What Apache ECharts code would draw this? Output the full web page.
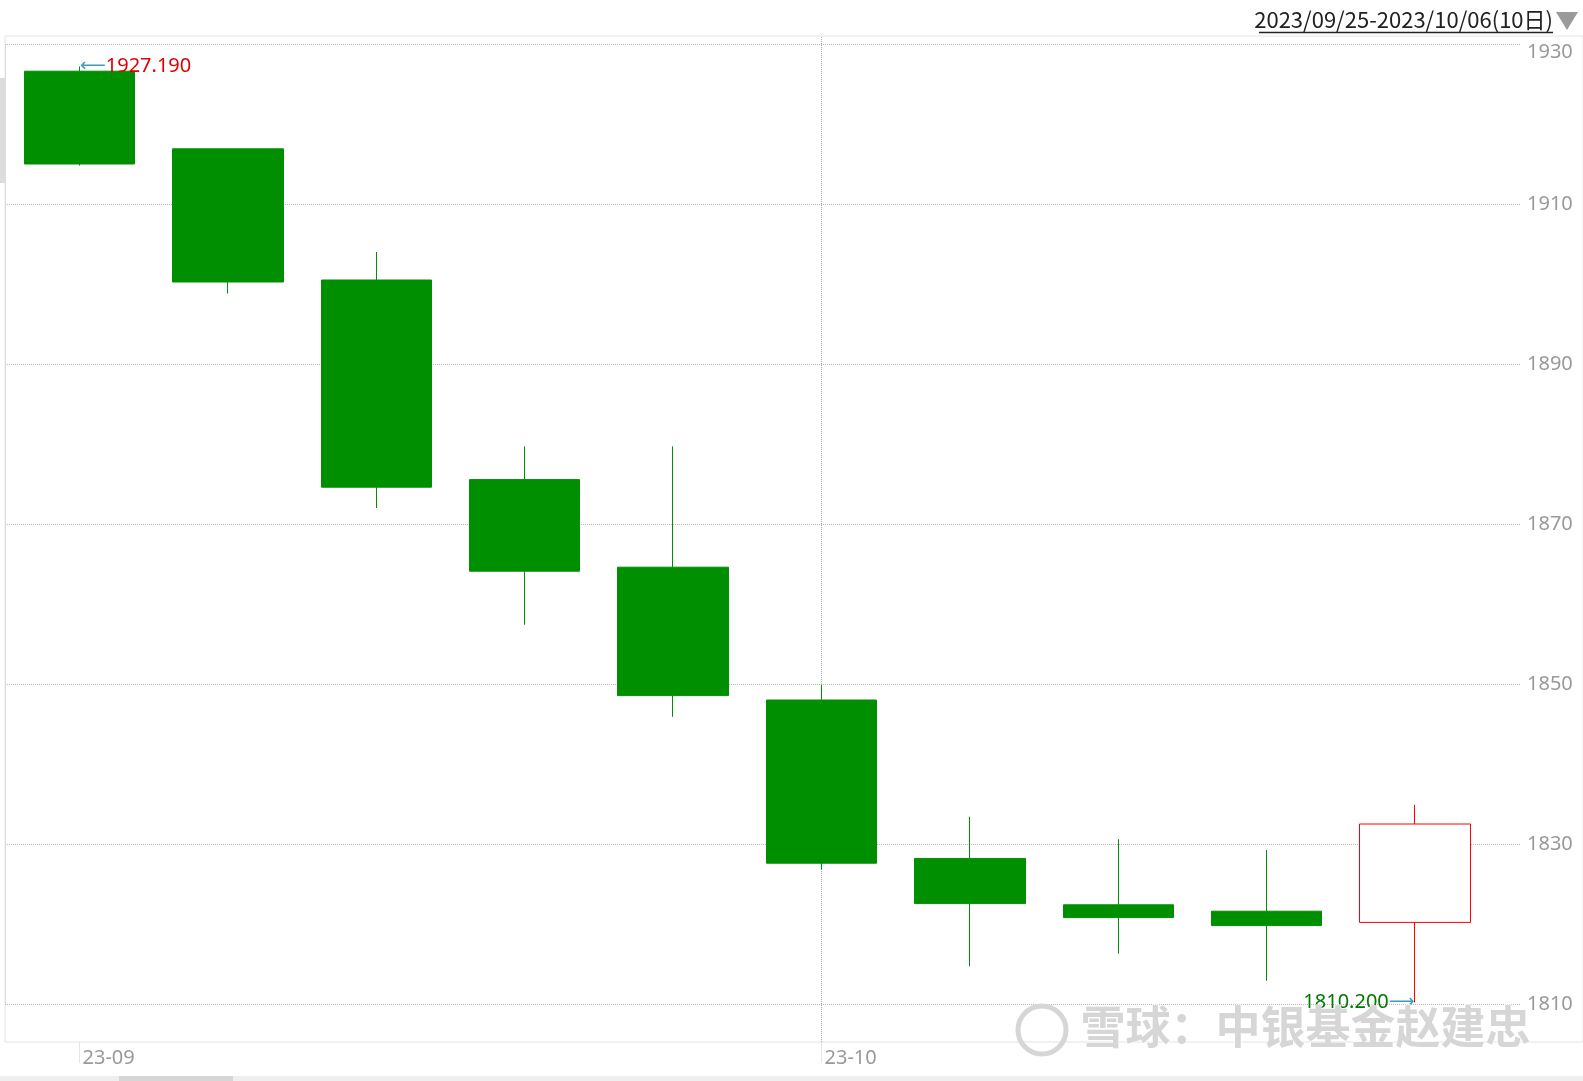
<!DOCTYPE html>
<html><head><meta charset="utf-8">
<script src="https://cdn.jsdelivr.net/npm/echarts@6/dist/echarts.min.js"></script>
<style>html,body{margin:0;padding:0;background:#fff;overflow:hidden}#c{width:1583px;height:1081px}</style>
</head><body><div id="c"></div>
<script>
// ---- data ----
const dates  = ['2023-09-25','2023-09-26','2023-09-27','2023-09-28','2023-09-29','2023-10-02','2023-10-03','2023-10-04','2023-10-05','2023-10-06'];
const opens  = [1926.6, 1916.9, 1900.5, 1875.55, 1864.6, 1848.0, 1828.2, 1822.4, 1821.6, 1820.2];
const closes = [1915.0, 1900.25, 1874.6, 1864.1, 1848.55, 1827.6, 1822.55, 1820.8, 1819.8, 1832.5];
const lows   = [1914.8, 1898.8, 1872.0, 1857.4, 1845.9, 1826.8, 1814.7, 1816.3, 1812.9, 1810.2];
const highs  = [1927.19, 1916.9, 1904.0, 1879.7, 1879.7, 1849.9, 1833.4, 1830.6, 1829.25, 1834.9];
const yMin = 1810, yMax = 1930, yStep = 20;
const monthTickIdx = [0, 5];
const rangeText = '2023/09/25-2023/10/06(10日)';
const watermarkText = '雪球：中银基金赵建忠';

const candleData = dates.map((d, i) => [opens[i], closes[i], lows[i], highs[i]]);
const green = '#008f00', red = '#ff0000';
const FONT = '"Noto Sans", "Open Sans", sans-serif';

const chart = echarts.init(document.getElementById('c'));
chart.setOption({
  animation: false,
  backgroundColor: '#fff',
  grid: [
    { left: 5.3, right: 93.7, top: 36, bottom: 39 },       // candles
    { left: 5, right: 63, top: 44, bottom: 77 },             // value axis / grid lines
    { left: 5, right: 0, top: 36, bottom: 39, show: true, borderColor: '#e4e4e4', borderWidth: 1 } // frame
  ],
  xAxis: [
    {
      type: 'category', gridIndex: 0, data: dates, boundaryGap: true,
      axisLine: { show: false },
      axisTick: { show: true, alignWithLabel: true, length: 21, interval: (i) => monthTickIdx.includes(i),
                  lineStyle: { color: '#e6e6e6' } },
      axisLabel: { interval: (i) => monthTickIdx.includes(i), formatter: v => v.slice(2, 7),
                   align: 'left', padding: [0, 0, 0, 3], margin: 6, color: '#999', fontSize: 20, fontFamily: FONT },
      splitLine: { show: false }
    },
    { type: 'value', gridIndex: 1, min: 0, max: 1, show: false },
    { type: 'value', gridIndex: 2, min: 0, max: 1, show: false }
  ],
  yAxis: [
    { type: 'value', gridIndex: 0, min: yMin - 38 / 8, max: yMax + 1, show: false, splitLine: { show: false } },
    {
      type: 'value', gridIndex: 1, position: 'right', min: yMin, max: yMax, interval: yStep,
      axisLine: { show: true, lineStyle: { color: '#d8d8d8', type: 'dotted' } },
      axisTick: { show: false },
      axisLabel: {
        margin: 7, color: '#999', fontSize: 20, fontFamily: FONT,
        formatter: v => v === yMax ? '{top|' + v + '}' : String(v),
        rich: { top: { padding: [16, 0, 0, 0], color: '#999', fontSize: 20, fontFamily: FONT } }
      },
      splitLine: { show: true, lineStyle: { color: '#b8b8b8', type: 'dotted', width: 1 } }
    },
    { type: 'value', gridIndex: 2, min: 0, max: 1, show: false }
  ],
  series: [{
    type: 'candlestick',
    xAxisIndex: 0, yAxisIndex: 0,
    data: candleData,
    barWidth: 111,
    itemStyle: { color: '#ffffff', color0: green, borderColor: red, borderColor0: green, borderWidth: 1 },
    emphasis: { disabled: true },
    markLine: {
      silent: true, z: 0, symbol: ['none', 'none'], label: { show: false },
      lineStyle: { color: '#aaaaaa', type: 'dotted', width: 1 },
      data: [{ xAxis: dates[monthTickIdx[1]] }]
    },
    markPoint: {
      silent: true, symbol: 'circle', symbolSize: 1,
      itemStyle: { color: 'rgba(0,0,0,0)' },
      data: [
        { type: 'max', valueDim: 'highest',
          label: { show: true, position: 'right', distance: 0,
                   formatter: p => '{a|⟵}{r|' + Number(p.value).toFixed(3) + '}',
                   rich: { a: { color: '#3a9fbf', fontSize: 18, fontFamily: 'DejaVu Sans' },
                           r: { color: '#e00000', fontSize: 20, fontFamily: FONT } } } },
        { type: 'min', valueDim: 'lowest',
          label: { show: true, position: 'left', distance: 0,
                   formatter: p => '{g|' + Number(p.value).toFixed(3) + '}{a|⟶}',
                   rich: { a: { color: '#3a9fbf', fontSize: 18, fontFamily: 'DejaVu Sans' },
                           g: { color: '#007a00', fontSize: 20, fontFamily: FONT } } } }
      ]
    }
  }],
  graphic: [
    { type: 'text', right: 30, top: 9, z: 10,
      style: { text: rangeText, fill: '#222', font: '22px "Noto Sans CJK SC", sans-serif' } },
    { type: 'line', z: 10, shape: { x1: 1259, y1: 32.5, x2: 1553, y2: 32.5 }, style: { stroke: '#222', lineWidth: 1.5 } },
    { type: 'polygon', z: 10, shape: { points: [[1556, 12], [1578, 12], [1567, 30]] }, style: { fill: '#9a9a9a' } },
    { type: 'rect', z: 10, shape: { x: 0, y: 78, width: 5, height: 105 }, style: { fill: '#dcdcdc' } },
    { type: 'rect', z: 10, shape: { x: 0, y: 1076, width: 1583, height: 5 }, style: { fill: '#efefef' } },
    { type: 'rect', z: 11, shape: { x: 119, y: 1076, width: 114, height: 5 }, style: { fill: '#d6d6d6' } },
    { type: 'circle', z: 20, shape: { cx: 1042, cy: 1030, r: 24 }, style: { fill: 'none', stroke: '#d6d6d6', lineWidth: 5 } },
    { type: 'text', z: 20, left: 1080, top: 1004,
      style: { text: watermarkText, fill: '#d6d6d6', font: 'bold 45px "Noto Sans CJK SC", sans-serif',
               stroke: '#ffffff', lineWidth: 1 } }
  ]
});
</script>
</body></html>
